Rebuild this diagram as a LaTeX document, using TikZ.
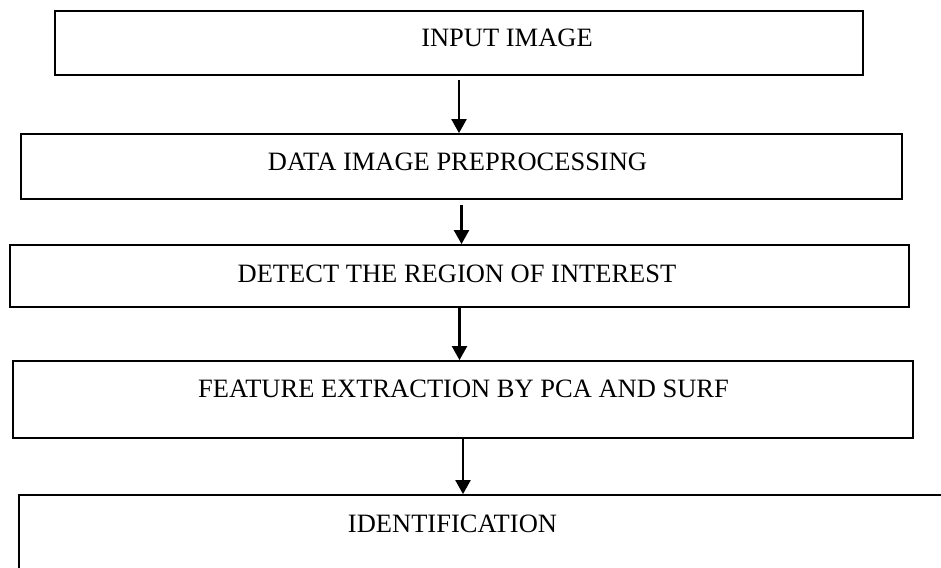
\documentclass[tikz,border=0pt]{standalone}
\usepackage{fontspec}
\setmainfont{Liberation Serif}
\usetikzlibrary{arrows.meta,positioning}

\begin{document}
\begin{tikzpicture}[x=1pt,y=-1pt,>={Triangle[length=14pt,width=15pt]},
  stepbox/.style={draw,line width=1.8pt,inner sep=0pt},
  txt/.style={anchor=base,inner sep=0pt,font=\fontsize{26.5}{30}\selectfont},
  flow/.style={->,line width=2.2pt}]
    \clip (0,0) rectangle (941,567);
    % boxes
    \node[stepbox,minimum width=808pt,minimum height=64pt] (b1) at (459,43) {};
    \node[stepbox,minimum width=881pt,minimum height=65pt] (b2) at (461.5,166.5) {};
    \node[stepbox,minimum width=899pt,minimum height=62pt] (b3) at (459.5,276) {};
    \node[stepbox,minimum width=900pt,minimum height=77pt] (b4) at (463,399.5) {};
    \node[stepbox,minimum width=971pt,minimum height=125pt] (b5) at (504.5,557.5) {};
    % labels
    \node[txt] (t1) at (507,47) {INPUT IMAGE};
    \node[txt] (t2) at (457.5,170) {DATA IMAGE PREPROCESSING};
    \node[txt] (t3) at (457,282) {DETECT THE REGION OF INTEREST};
    \node[txt] (t4) at (463.5,397) {FEATURE EXTRACTION BY PCA AND SURF};
    \node[txt] (t5) at (452.5,532) {IDENTIFICATION};
    % arrows
    \draw[flow,shorten <=4pt] (b1.south) -- (b1.south |- b2.north);
    \draw[flow,shorten <=5pt] (b2.south) -- (b2.south |- b3.north);
    \draw[flow] (b3.south) -- (b3.south |- b4.north);
    \draw[flow] (b4.south) -- (b4.south |- b5.north);
\end{tikzpicture}
\end{document}
